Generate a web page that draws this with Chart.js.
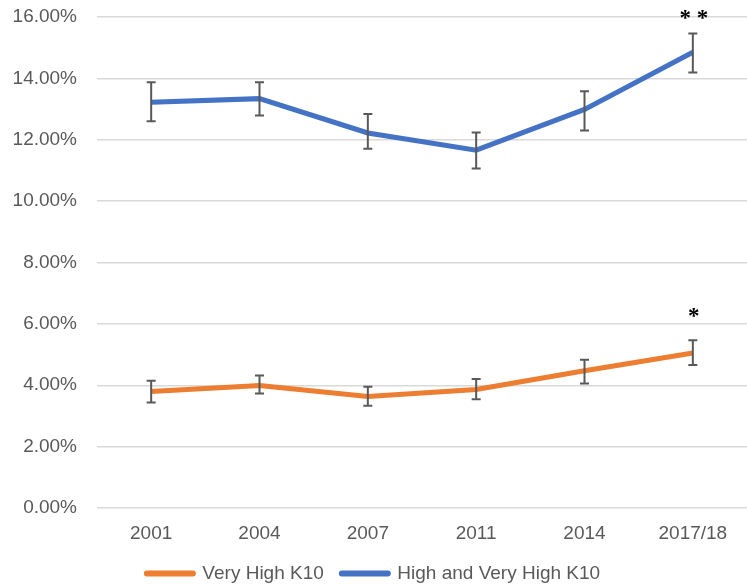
<!DOCTYPE html>
<html>
<head>
<meta charset="utf-8">
<script src="https://cdn.jsdelivr.net/npm/chart.js@4"></script>
<style>
  html, body { margin: 0; padding: 0; background: #fff; }
  #wrap { width: 747px; height: 585px; }
</style>
</head>
<body>
<div id="wrap"><canvas id="chart"></canvas></div>
<script>
const years = ['2001', '2004', '2007', '2011', '2014', '2017/18'];

const veryHigh = [3.80, 3.99, 3.63, 3.86, 4.47, 5.05];
const veryHighLow = [3.44, 3.73, 3.33, 3.54, 4.06, 4.66];
const veryHighHigh = [4.15, 4.32, 3.95, 4.20, 4.83, 5.47];

const highVeryHigh = [13.22, 13.34, 12.22, 11.66, 12.99, 14.85];
const highVeryHighLow = [12.60, 12.79, 11.71, 11.06, 12.30, 14.19];
const highVeryHighHigh = [13.87, 13.87, 12.84, 12.24, 13.58, 15.46];

const yTicks = [0, 2, 4, 6, 8, 10, 12, 14, 16];

// significance markers: category, value where the mark sits, text
const marks = [
  { year: '2017/18', value: 16.1, text: '* *' },
  { year: '2017/18', value: 6.38, text: '*' }
];

const errorBars = {
  id: 'errorBars',
  afterDatasetsDraw(chart) {
    const ctx = chart.ctx;
    const x = chart.scales.x, y = chart.scales.y;
    ctx.save();
    ctx.strokeStyle = '#595959';
    ctx.lineWidth = 2;
    chart.data.datasets.forEach(ds => {
      ds.low.forEach((lo, i) => {
        const px = x.getPixelForValue(i);
        const top = y.getPixelForValue(ds.high[i]);
        const bot = y.getPixelForValue(lo);
        ctx.beginPath();
        ctx.moveTo(px, top); ctx.lineTo(px, bot);
        ctx.moveTo(px - 4.5, top); ctx.lineTo(px + 4.5, top);
        ctx.moveTo(px - 4.5, bot); ctx.lineTo(px + 4.5, bot);
        ctx.stroke();
      });
    });
    ctx.fillStyle = '#000';
    ctx.font = 'bold 23px "Liberation Serif"';
    ctx.textAlign = 'center';
    ctx.textBaseline = 'middle';
    marks.forEach(m => {
      const px = x.getPixelForValue(years.indexOf(m.year));
      ctx.fillText(m.text, px + 1, y.getPixelForValue(m.value) + 5);
    });
    ctx.restore();
  }
};

new Chart(document.getElementById('chart'), {
  type: 'line',
  data: {
    labels: years,
    datasets: [
      {
        label: 'Very High K10',
        data: veryHigh, low: veryHighLow, high: veryHighHigh,
        borderColor: '#ED7D31', backgroundColor: '#ED7D31',
        borderWidth: 5, pointRadius: 0, tension: 0
      },
      {
        label: 'High and Very High K10',
        data: highVeryHigh, low: highVeryHighLow, high: highVeryHighHigh,
        borderColor: '#4472C4', backgroundColor: '#4472C4',
        borderWidth: 5, pointRadius: 0, tension: 0
      }
    ]
  },
  options: {
    responsive: true,
    maintainAspectRatio: false,
    animation: false,
    layout: { padding: { top: 17, right: 0, left: 0, bottom: -8 } },
    plugins: {
      tooltip: { enabled: false },
      legend: {
        position: 'bottom',
        labels: {
          usePointStyle: true, pointStyleWidth: 46,
          boxWidth: 46, boxHeight: 6, padding: 18,
          color: '#595959',
          font: { family: '"Liberation Sans"', size: 19 },
          generateLabels(chart) {
            return Chart.defaults.plugins.legend.labels.generateLabels(chart)
              .map(l => Object.assign(l, { pointStyle: 'line', lineWidth: 6, lineCap: 'round' }));
          }
        }
      }
    },
    scales: {
      x: {
        offset: true,
        afterFit(s) { s.height = 38; s.paddingLeft = 0; s.paddingRight = 0; },
        grid: { display: false },
        border: { display: false },
        ticks: { color: '#595959', padding: 6, font: { family: '"Liberation Sans"', size: 19 } }
      },
      y: {
        min: 0, max: 16,
        afterFit(s) { s.width = 97; s.paddingTop = 0; s.paddingBottom = 0; },
        afterBuildTicks(s) { s.ticks = yTicks.map(v => ({ value: v })); },
        grid: { color: '#d9d9d9', lineWidth: 1.5, drawTicks: false },
        border: { display: false },
        ticks: {
          color: '#595959', padding: 20,
          font: { family: '"Liberation Sans"', size: 19 },
          callback: v => v.toFixed(2) + '%'
        }
      }
    }
  },
  plugins: [errorBars]
});
</script>
</body>
</html>
